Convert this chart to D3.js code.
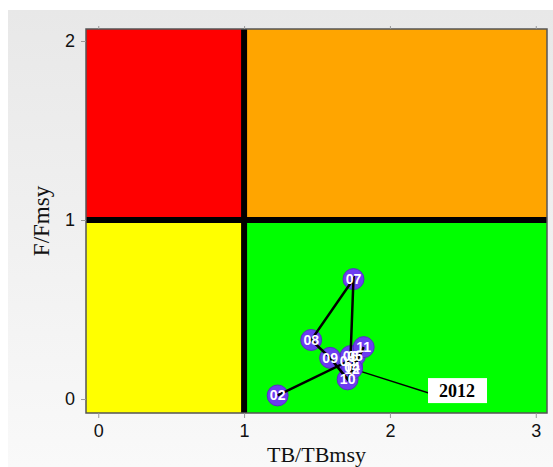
<!DOCTYPE html>
<html>
<head>
<meta charset="utf-8">
<script src="https://cdn.jsdelivr.net/npm/d3@7"></script>
<style>
  body { margin: 0; background: #fff; }
  svg { display: block; }
</style>
</head>
<body>
<svg class="chart"></svg>
<script>
// years and stock status values
const years = ["02", "03", "04", "05", "06", "07", "08", "09", "10", "11", "12"];
const tbRatio = [1.23, 1.71, 1.74, 1.76, 1.73, 1.75, 1.46, 1.59, 1.71, 1.82, 1.74];
const fRatio = [0.02, 0.21, 0.18, 0.24, 0.24, 0.67, 0.33, 0.23, 0.11, 0.29, 0.17];

// label for the last year
const lastLabel = "2012";
const lastLabelPos = [2.46, 0.05];

const xTicks = [0, 1, 2, 3];
const yTicks = [0, 1, 2];

const width = 553,
      height = 467;

// plot area edges
const pLeft = 86, pRight = 547, pTop = 29, pBottom = 413;

const x = d3.scaleLinear()
  .domain([-0.084, 3.077])
  .range([pLeft, pRight]);

const y = d3.scaleLinear()
  .domain([-0.078, 2.067])
  .range([pBottom, pTop]);

const chart = d3.select(".chart")
  .attr("width", width)
  .attr("height", height);

// background gradient panel
const grad = chart.append("defs").append("linearGradient")
  .attr("id", "bg")
  .attr("x1", 0).attr("y1", 0).attr("x2", 0).attr("y2", 1);
grad.append("stop").attr("offset", "0%").attr("stop-color", "#e8e8e8");
grad.append("stop").attr("offset", "100%").attr("stop-color", "#f9f9f9");

chart.append("rect")
  .attr("x", 8).attr("y", 10)
  .attr("width", width - 8).attr("height", height - 10)
  .attr("fill", "url(#bg)");

// quadrants
const quads = [
  { x0: -0.084, x1: 1, y0: 1, y1: 2.067, c: "#ff0000" },
  { x0: 1, x1: 3.077, y0: 1, y1: 2.067, c: "#ffa500" },
  { x0: -0.084, x1: 1, y0: -0.078, y1: 1, c: "#ffff00" },
  { x0: 1, x1: 3.077, y0: -0.078, y1: 1, c: "#00ff00" }
];

chart.selectAll("rect.quad")
  .data(quads)
  .enter()
  .append("rect")
    .attr("class", "quad")
    .attr("x", d => x(d.x0))
    .attr("y", d => y(d.y1))
    .attr("width", d => x(d.x1) - x(d.x0))
    .attr("height", d => y(d.y0) - y(d.y1))
    .attr("fill", d => d.c);

// thick reference lines at 1
chart.append("line")
  .attr("x1", x(1)).attr("x2", x(1))
  .attr("y1", pTop).attr("y2", pBottom)
  .attr("stroke", "#000").attr("stroke-width", 6);

chart.append("line")
  .attr("x1", pLeft).attr("x2", pRight)
  .attr("y1", y(1)).attr("y2", y(1))
  .attr("stroke", "#000").attr("stroke-width", 6);

// frame
chart.append("rect")
  .attr("x", pLeft).attr("y", pTop)
  .attr("width", pRight - pLeft).attr("height", pBottom - pTop)
  .attr("fill", "none")
  .attr("stroke", "#555").attr("stroke-width", 1.5);

// axes
chart.append("g")
  .attr("transform", `translate(0, ${pBottom})`)
  .call(d3.axisBottom(x).tickValues(xTicks).tickSize(5).tickPadding(6).tickFormat(d3.format("d")));

chart.append("g")
  .attr("transform", `translate(${pLeft}, 0)`)
  .call(d3.axisLeft(y).tickValues(yTicks).tickSize(5).tickPadding(6).tickFormat(d3.format("d")));

// small ticks on top edge
chart.append("g")
  .attr("transform", `translate(0, ${pTop})`)
  .call(d3.axisTop(x).tickValues(xTicks).tickSize(3).tickFormat(""));

chart.selectAll(".domain").remove();
chart.selectAll(".tick line").attr("stroke", "#999");
chart.selectAll(".tick text")
  .attr("font-family", "'Liberation Sans', Arial, sans-serif")
  .attr("font-size", 18)
  .attr("fill", "#111");

// axis titles
chart.append("text")
  .attr("x", (pLeft + pRight) / 2)
  .attr("y", 462)
  .attr("text-anchor", "middle")
  .attr("font-family", "'Liberation Serif', 'Times New Roman', serif")
  .attr("font-size", 22)
  .attr("fill", "#111")
  .text("TB/TBmsy");

chart.append("text")
  .attr("transform", `translate(49, ${(pTop + pBottom) / 2}) rotate(-90)`)
  .attr("text-anchor", "middle")
  .attr("font-family", "'Liberation Serif', 'Times New Roman', serif")
  .attr("font-size", 23)
  .attr("fill", "#111")
  .text("F/Fmsy");

const pts = years.map((yr, i) => ({ yr: yr, tb: tbRatio[i], f: fRatio[i] }));
const last = pts[pts.length - 1];

// pointer from last year to its label
chart.append("line")
  .attr("x1", x(last.tb)).attr("y1", y(last.f))
  .attr("x2", x(lastLabelPos[0])).attr("y2", y(0) + 3)
  .attr("stroke", "#000").attr("stroke-width", 1.5);

// points
chart.selectAll("circle.pt")
  .data(pts)
  .enter()
  .append("circle")
    .attr("class", "pt")
    .attr("cx", d => x(d.tb))
    .attr("cy", d => y(d.f))
    .attr("r", 10.5)
    .attr("fill", "#6c3cf0")
    .attr("stroke", "#5530c0")
    .attr("stroke-width", 1);

// trajectory
const line = d3.line()
  .x(d => x(d.tb))
  .y(d => y(d.f));

chart.append("path")
  .datum(pts)
  .attr("d", line)
  .attr("fill", "none")
  .attr("stroke", "#000")
  .attr("stroke-width", 2.5);

// year labels
chart.selectAll("text.yr")
  .data(pts)
  .enter()
  .append("text")
    .attr("class", "yr")
    .attr("x", d => x(d.tb))
    .attr("y", d => y(d.f))
    .attr("dy", "0.36em")
    .attr("text-anchor", "middle")
    .attr("font-family", "'Liberation Sans Narrow', 'Liberation Sans', Arial, sans-serif")
    .attr("font-weight", "bold")
    .attr("font-size", 14)
    .attr("fill", "#fff")
    .text(d => d.yr);

// last year label box
const lbl = chart.append("g")
  .attr("transform", `translate(${x(lastLabelPos[0])}, ${y(lastLabelPos[1])})`);

lbl.append("rect")
  .attr("x", -29).attr("y", -12)
  .attr("width", 59).attr("height", 25)
  .attr("fill", "#fff");

lbl.append("text")
  .attr("y", 0)
  .attr("dy", "0.36em")
  .attr("text-anchor", "middle")
  .attr("font-family", "'Liberation Serif', 'Times New Roman', serif")
  .attr("font-weight", "bold")
  .attr("font-size", 18)
  .attr("fill", "#000")
  .text(lastLabel);
</script>
</body>
</html>
